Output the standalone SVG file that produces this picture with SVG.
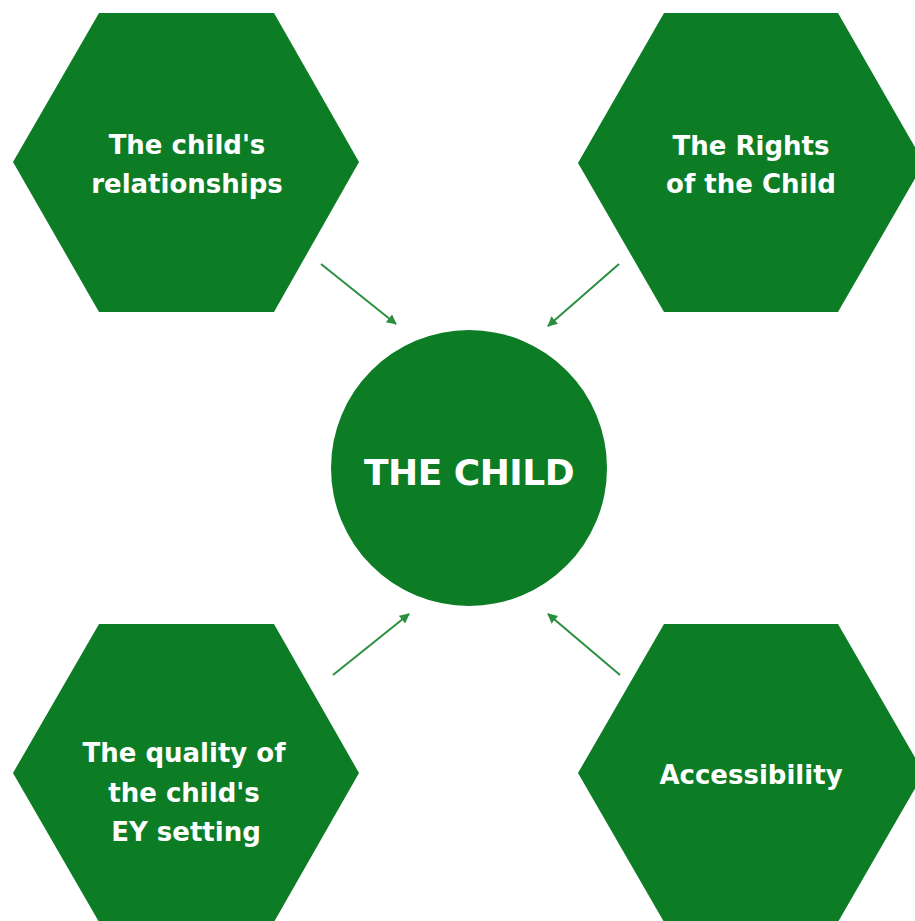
<svg xmlns="http://www.w3.org/2000/svg" width="915" height="921" viewBox="0 0 915 921">
<defs>
<style>
.hex{fill:#0c7d25}
.lbl{fill:#ffffff;font-family:"DejaVu Sans","Liberation Sans",sans-serif;font-weight:700;font-size:26px;text-anchor:middle}
.big{font-size:36px;letter-spacing:-0.5px}
.con{stroke:#2b8f3f;stroke-width:2;fill:none;marker-end:url(#ah)}
</style>
<marker id="ah" viewBox="0 0 10 10" refX="9" refY="5" markerWidth="5" markerHeight="5" orient="auto" markerUnits="strokeWidth">
<path d="M0,0 L10,5 L0,10 Z" fill="#2b8f3f"/>
</marker>
</defs>
<rect width="915" height="921" fill="#ffffff"/>
<g id="node-relationships">
<polygon class="hex" points="13,162 99,13 274,13 359,162 274,312 99,312"/>
<text class="lbl" x="187" y="154">The child's</text>
<text class="lbl" x="187" y="193">relationships</text>
</g>
<g id="node-rights">
<polygon class="hex" points="578,163 664,13 838,13 924,163 838,312 664,312"/>
<text class="lbl" x="751" y="155">The Rights</text>
<text class="lbl" x="751" y="193">of the Child</text>
</g>
<g id="node-quality">
<polygon class="hex" points="13,773 99,624 274,624 359,773 274,922 99,922"/>
<text class="lbl" x="184" y="762">The quality of</text>
<text class="lbl" x="184" y="802">the child's</text>
<text class="lbl" x="186" y="841">EY setting</text>
</g>
<g id="node-accessibility">
<polygon class="hex" points="578,773 664,624 838,624 924,773 838,922 664,922"/>
<text class="lbl" x="751" y="784">Accessibility</text>
</g>
<g id="node-child">
<circle class="hex" cx="469" cy="468" r="138"/>
<text class="lbl big" x="469" y="485">THE CHILD</text>
</g>
<g id="connectors">
<line class="con" x1="321" y1="264" x2="396" y2="324"/>
<line class="con" x1="619" y1="264" x2="548" y2="326"/>
<line class="con" x1="333" y1="675" x2="409" y2="614"/>
<line class="con" x1="620" y1="675" x2="548" y2="614"/>
</g>
</svg>
